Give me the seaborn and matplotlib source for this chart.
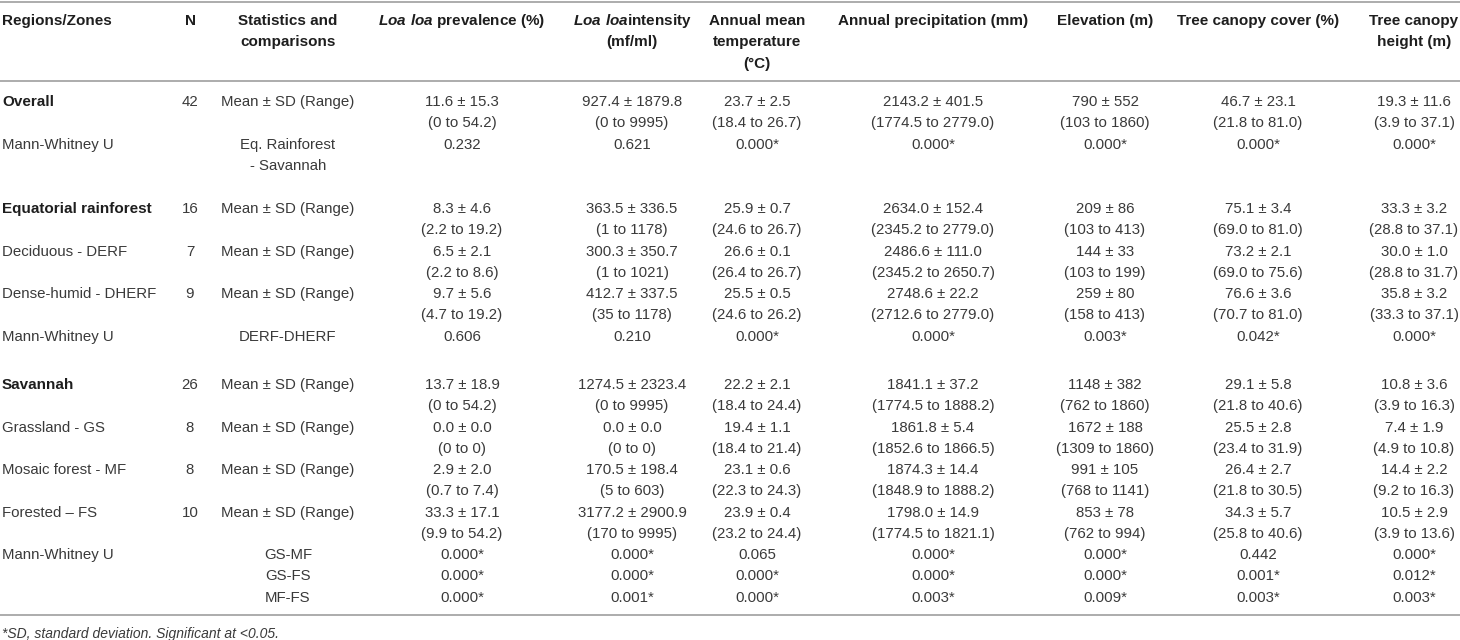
import matplotlib.pyplot as plt
import seaborn as sns

# Table content
headers = ['Regions/Zones', 'N', 'Statistics and\ncomparisons',
           r'$\mathbfit{Loa\ loa}$ prevalence (%)',
           r'$\mathbfit{Loa\ loa}$intensity' + '\n(mf/ml)',
           'Annual mean\ntemperature\n(°C)',
           'Annual precipitation (mm)', 'Elevation (m)',
           'Tree canopy cover (%)', 'Tree canopy\nheight (m)']

regions = ['Overall', 'Mann-Whitney U', 'Equatorial rainforest', 'Deciduous - DERF',
           'Dense-humid - DHERF', 'Mann-Whitney U', 'Savannah', 'Grassland - GS',
           'Mosaic forest - MF', 'Forested – FS', 'Mann-Whitney U']
bold_rows = ['Overall', 'Equatorial rainforest', 'Savannah']
n_sites = ['42', '', '16', '7', '9', '', '26', '8', '8', '10', '']
stats = ['Mean ± SD (Range)', 'Eq. Rainforest\n- Savannah', 'Mean ± SD (Range)',
         'Mean ± SD (Range)', 'Mean ± SD (Range)', 'DERF-DHERF', 'Mean ± SD (Range)',
         'Mean ± SD (Range)', 'Mean ± SD (Range)', 'Mean ± SD (Range)',
         'GS-MF\nGS-FS\nMF-FS']

prevalence = ['11.6 ± 15.3\n(0 to 54.2)', '0.232', '8.3 ± 4.6\n(2.2 to 19.2)',
              '6.5 ± 2.1\n(2.2 to 8.6)', '9.7 ± 5.6\n(4.7 to 19.2)', '0.606',
              '13.7 ± 18.9\n(0 to 54.2)', '0.0 ± 0.0\n(0 to 0)', '2.9 ± 2.0\n(0.7 to 7.4)',
              '33.3 ± 17.1\n(9.9 to 54.2)', '0.000*\n0.000*\n0.000*']
intensity = ['927.4 ± 1879.8\n(0 to 9995)', '0.621', '363.5 ± 336.5\n(1 to 1178)',
             '300.3 ± 350.7\n(1 to 1021)', '412.7 ± 337.5\n(35 to 1178)', '0.210',
             '1274.5 ± 2323.4\n(0 to 9995)', '0.0 ± 0.0\n(0 to 0)',
             '170.5 ± 198.4\n(5 to 603)', '3177.2 ± 2900.9\n(170 to 9995)',
             '0.000*\n0.000*\n0.001*']
temperature = ['23.7 ± 2.5\n(18.4 to 26.7)', '0.000*', '25.9 ± 0.7\n(24.6 to 26.7)',
               '26.6 ± 0.1\n(26.4 to 26.7)', '25.5 ± 0.5\n(24.6 to 26.2)', '0.000*',
               '22.2 ± 2.1\n(18.4 to 24.4)', '19.4 ± 1.1\n(18.4 to 21.4)',
               '23.1 ± 0.6\n(22.3 to 24.3)', '23.9 ± 0.4\n(23.2 to 24.4)',
               '0.065\n0.000*\n0.000*']
precipitation = ['2143.2 ± 401.5\n(1774.5 to 2779.0)', '0.000*',
                 '2634.0 ± 152.4\n(2345.2 to 2779.0)', '2486.6 ± 111.0\n(2345.2 to 2650.7)',
                 '2748.6 ± 22.2\n(2712.6 to 2779.0)', '0.000*',
                 '1841.1 ± 37.2\n(1774.5 to 1888.2)', '1861.8 ± 5.4\n(1852.6 to 1866.5)',
                 '1874.3 ± 14.4\n(1848.9 to 1888.2)', '1798.0 ± 14.9\n(1774.5 to 1821.1)',
                 '0.000*\n0.000*\n0.003*']
elevation = ['790 ± 552\n(103 to 1860)', '0.000*', '209 ± 86\n(103 to 413)',
             '144 ± 33\n(103 to 199)', '259 ± 80\n(158 to 413)', '0.003*',
             '1148 ± 382\n(762 to 1860)', '1672 ± 188\n(1309 to 1860)',
             '991 ± 105\n(768 to 1141)', '853 ± 78\n(762 to 994)',
             '0.000*\n0.000*\n0.009*']
canopy_cover = ['46.7 ± 23.1\n(21.8 to 81.0)', '0.000*', '75.1 ± 3.4\n(69.0 to 81.0)',
                '73.2 ± 2.1\n(69.0 to 75.6)', '76.6 ± 3.6\n(70.7 to 81.0)', '0.042*',
                '29.1 ± 5.8\n(21.8 to 40.6)', '25.5 ± 2.8\n(23.4 to 31.9)',
                '26.4 ± 2.7\n(21.8 to 30.5)', '34.3 ± 5.7\n(25.8 to 40.6)',
                '0.442\n0.001*\n0.003*']
canopy_height = ['19.3 ± 11.6\n(3.9 to 37.1)', '0.000*', '33.3 ± 3.2\n(28.8 to 37.1)',
                 '30.0 ± 1.0\n(28.8 to 31.7)', '35.8 ± 3.2\n(33.3 to 37.1)', '0.000*',
                 '10.8 ± 3.6\n(3.9 to 16.3)', '7.4 ± 1.9\n(4.9 to 10.8)',
                 '14.4 ± 2.2\n(9.2 to 16.3)', '10.5 ± 2.9\n(3.9 to 13.6)',
                 '0.000*\n0.012*\n0.003*']
footnote = '*SD, standard deviation. Significant at <0.05.'

columns = [regions, n_sites, stats, prevalence, intensity, temperature,
           precipitation, elevation, canopy_cover, canopy_height]

# Layout (pixel units of a 1460x640 canvas)
col_x = [2, 190, 288, 462, 632, 757, 933, 1105, 1258, 1414]
row_y = [102, 145, 209, 252, 294, 337, 385, 428, 470, 513, 555]
header_y = 21
line_h = 21.3
rules = [2, 81, 615]

sns.set_theme(style='white')
plt.rcParams['font.family'] = ['Liberation Sans', 'DejaVu Sans']
plt.rcParams['mathtext.fontset'] = 'custom'
plt.rcParams['mathtext.rm'] = 'Liberation Sans'
plt.rcParams['mathtext.bfit'] = 'Liberation Sans:italic:bold'

fig = plt.figure(figsize=(14.6, 6.4), dpi=100)
ax = fig.add_axes([0, 0, 1, 1])
ax.set_xlim(0, 1460)
ax.set_ylim(640, 0)
ax.axis('off')

for y in rules:
    ax.axhline(y, color='#a6a6a6', lw=1.3)

def put(x, y, txt, ha, **kw):
    for i, line in enumerate(txt.split('\n')):
        ax.text(x, y + i * line_h, line, ha=ha, va='center', **kw)

for j, h in enumerate(headers):
    put(col_x[j], header_y, h, 'left' if j == 0 else 'center',
        fontsize=11, fontweight='bold', color='#1e1e1e')

for j, col in enumerate(columns):
    ha = 'left' if j == 0 else 'center'
    for r, val in enumerate(col):
        if j == 0 and val in bold_rows:
            put(col_x[j], row_y[r], val, ha, fontsize=11, fontweight='bold', color='#1e1e1e')
        else:
            put(col_x[j], row_y[r], val, ha, fontsize=10.8, color='#3a3a3a')

ax.text(2, 634, footnote, ha='left', va='center', fontsize=10,
        style='italic', color='#3a3a3a')

fig.savefig('out.png', dpi=100)
